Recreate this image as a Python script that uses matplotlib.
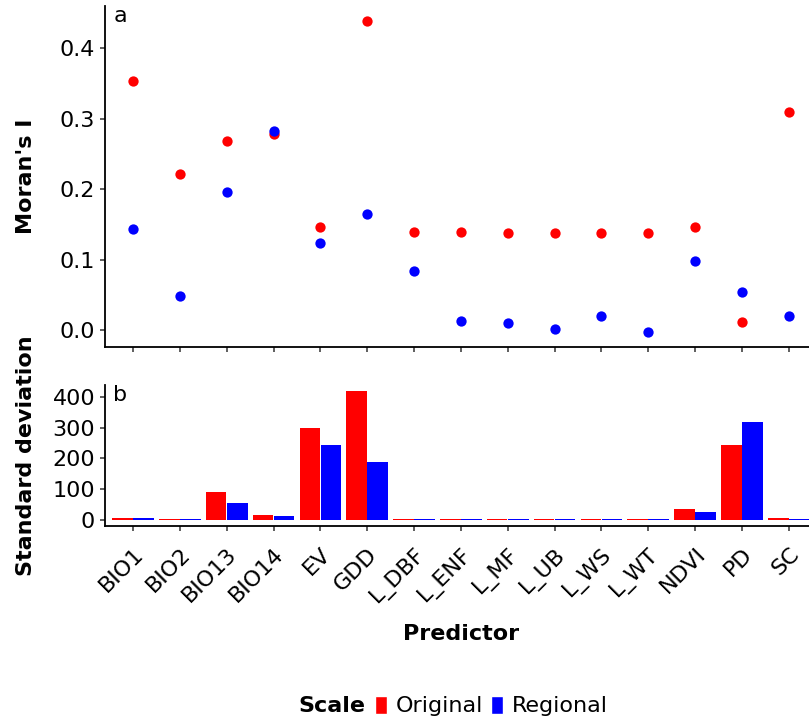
import matplotlib
matplotlib.use("Agg")
import matplotlib.pyplot as plt
import numpy as np
from matplotlib.patches import Patch

plt.rcParams['font.family'] = ['DejaVu Sans']

predictors = ["BIO1", "BIO2", "BIO13", "BIO14", "EV", "GDD", "L_DBF", "L_ENF",
              "L_MF", "L_UB", "L_WS", "L_WT", "NDVI", "PD", "SC"]

# Moran's I of residuals
moran_original = [0.354, 0.222, 0.268, 0.279, 0.146, 0.439, 0.139, 0.139,
                  0.138, 0.138, 0.138, 0.138, 0.146, 0.011, 0.310]
moran_regional = [0.143, 0.049, 0.196, 0.283, 0.124, 0.165, 0.084, 0.013,
                  0.010, 0.001, 0.020, -0.002, 0.098, 0.054, 0.020]

# standard deviation of predictors
sd_original = [7, 4, 91, 16, 300, 418, 2.5, 2.5, 2.5, 2.5, 2.5, 2.5, 35, 245, 5.5]
sd_regional = [5.5, 2.5, 54, 14, 243, 187, 2.5, 2.5, 2.5, 2.5, 2.5, 2.5, 27, 318, 4]

RED = "#FF0000"
BLUE = "#0000FF"
FS = 16

fig = plt.figure(figsize=(8.09, 7.26), dpi=100)
W, H = 809, 726
left, width = 0.1297, 0.880
ax1 = fig.add_axes([left, 0.5220, width, 0.4704])
ax2 = fig.add_axes([left, 0.2748, width, 0.1952])

x = np.arange(len(predictors))

def style(ax):
    for s in ["top", "right"]:
        ax.spines[s].set_visible(False)
    for s in ["left", "bottom"]:
        ax.spines[s].set_linewidth(1.3)
        ax.spines[s].set_color("black")
    ax.tick_params(axis="both", direction="out", length=3.5, width=1.1,
                   color="#333333", labelsize=FS, labelcolor="black", pad=3.5)
    ax.set_xlim(-0.6, len(predictors) - 0.4)
    ax.set_xticks(x)

# panel a: Moran's I
ax1.scatter(x, moran_original, s=55, color=RED, zorder=3, linewidths=0)
ax1.scatter(x, moran_regional, s=55, color=BLUE, zorder=4, linewidths=0)
style(ax1)
lo = min(min(moran_original), min(moran_regional))
hi = max(max(moran_original), max(moran_regional))
pad = 0.05 * (hi - lo)
ax1.set_ylim(lo - pad, hi + pad)
ax1.set_yticks([0.0, 0.1, 0.2, 0.3, 0.4])
ax1.set_yticklabels(["0.0", "0.1", "0.2", "0.3", "0.4"])
ax1.set_xticklabels([])
ax1.text(0.012, 1.0, "a", transform=ax1.transAxes, fontsize=FS,
         va="top", ha="left")

# panel b: standard deviation bars, dodged
bw = 0.44
ax2.bar(x - 0.225, sd_original, width=bw, color=RED, linewidth=0, zorder=2)
ax2.bar(x + 0.225, sd_regional, width=bw, color=BLUE, linewidth=0, zorder=2)
style(ax2)
ax2.tick_params(axis="x", pad=9)
top = max(max(sd_original), max(sd_regional))
ax2.set_ylim(-0.05 * top, 1.05 * top)
ax2.set_yticks([0, 100, 200, 300, 400])
ax2.set_xticklabels(predictors, rotation=45, ha="right", rotation_mode="anchor")
ax2.set_xlabel("Predictor", fontsize=FS, fontweight="bold", labelpad=12)
ax2.text(0.012, 1.0, "b", transform=ax2.transAxes, fontsize=FS,
         va="top", ha="left")

# y axis titles, centred on each panel
for ax, label in [(ax1, "Moran's I"), (ax2, "Standard deviation")]:
    b = ax.get_position()
    fig.text(26 / W, b.y0 + b.height / 2, label, rotation=90, fontsize=FS,
             fontweight="bold", ha="center", va="center")

# legend
fig.text(298 / W, 1 - 706 / H, "Scale", fontsize=FS, fontweight="bold",
         ha="left", va="center")
handles = [Patch(facecolor=RED, edgecolor="white", label="Original"),
           Patch(facecolor=BLUE, edgecolor="white", label="Regional")]
fig.legend(handles=handles, loc="center left",
           bbox_to_anchor=(375 / W, 1 - 706 / H),
           ncol=2, frameon=False, fontsize=FS, handlelength=0.55,
           handleheight=0.86, handletextpad=0.4, columnspacing=0.35,
           borderpad=0, borderaxespad=0)

fig.savefig("out.png", dpi=100)
